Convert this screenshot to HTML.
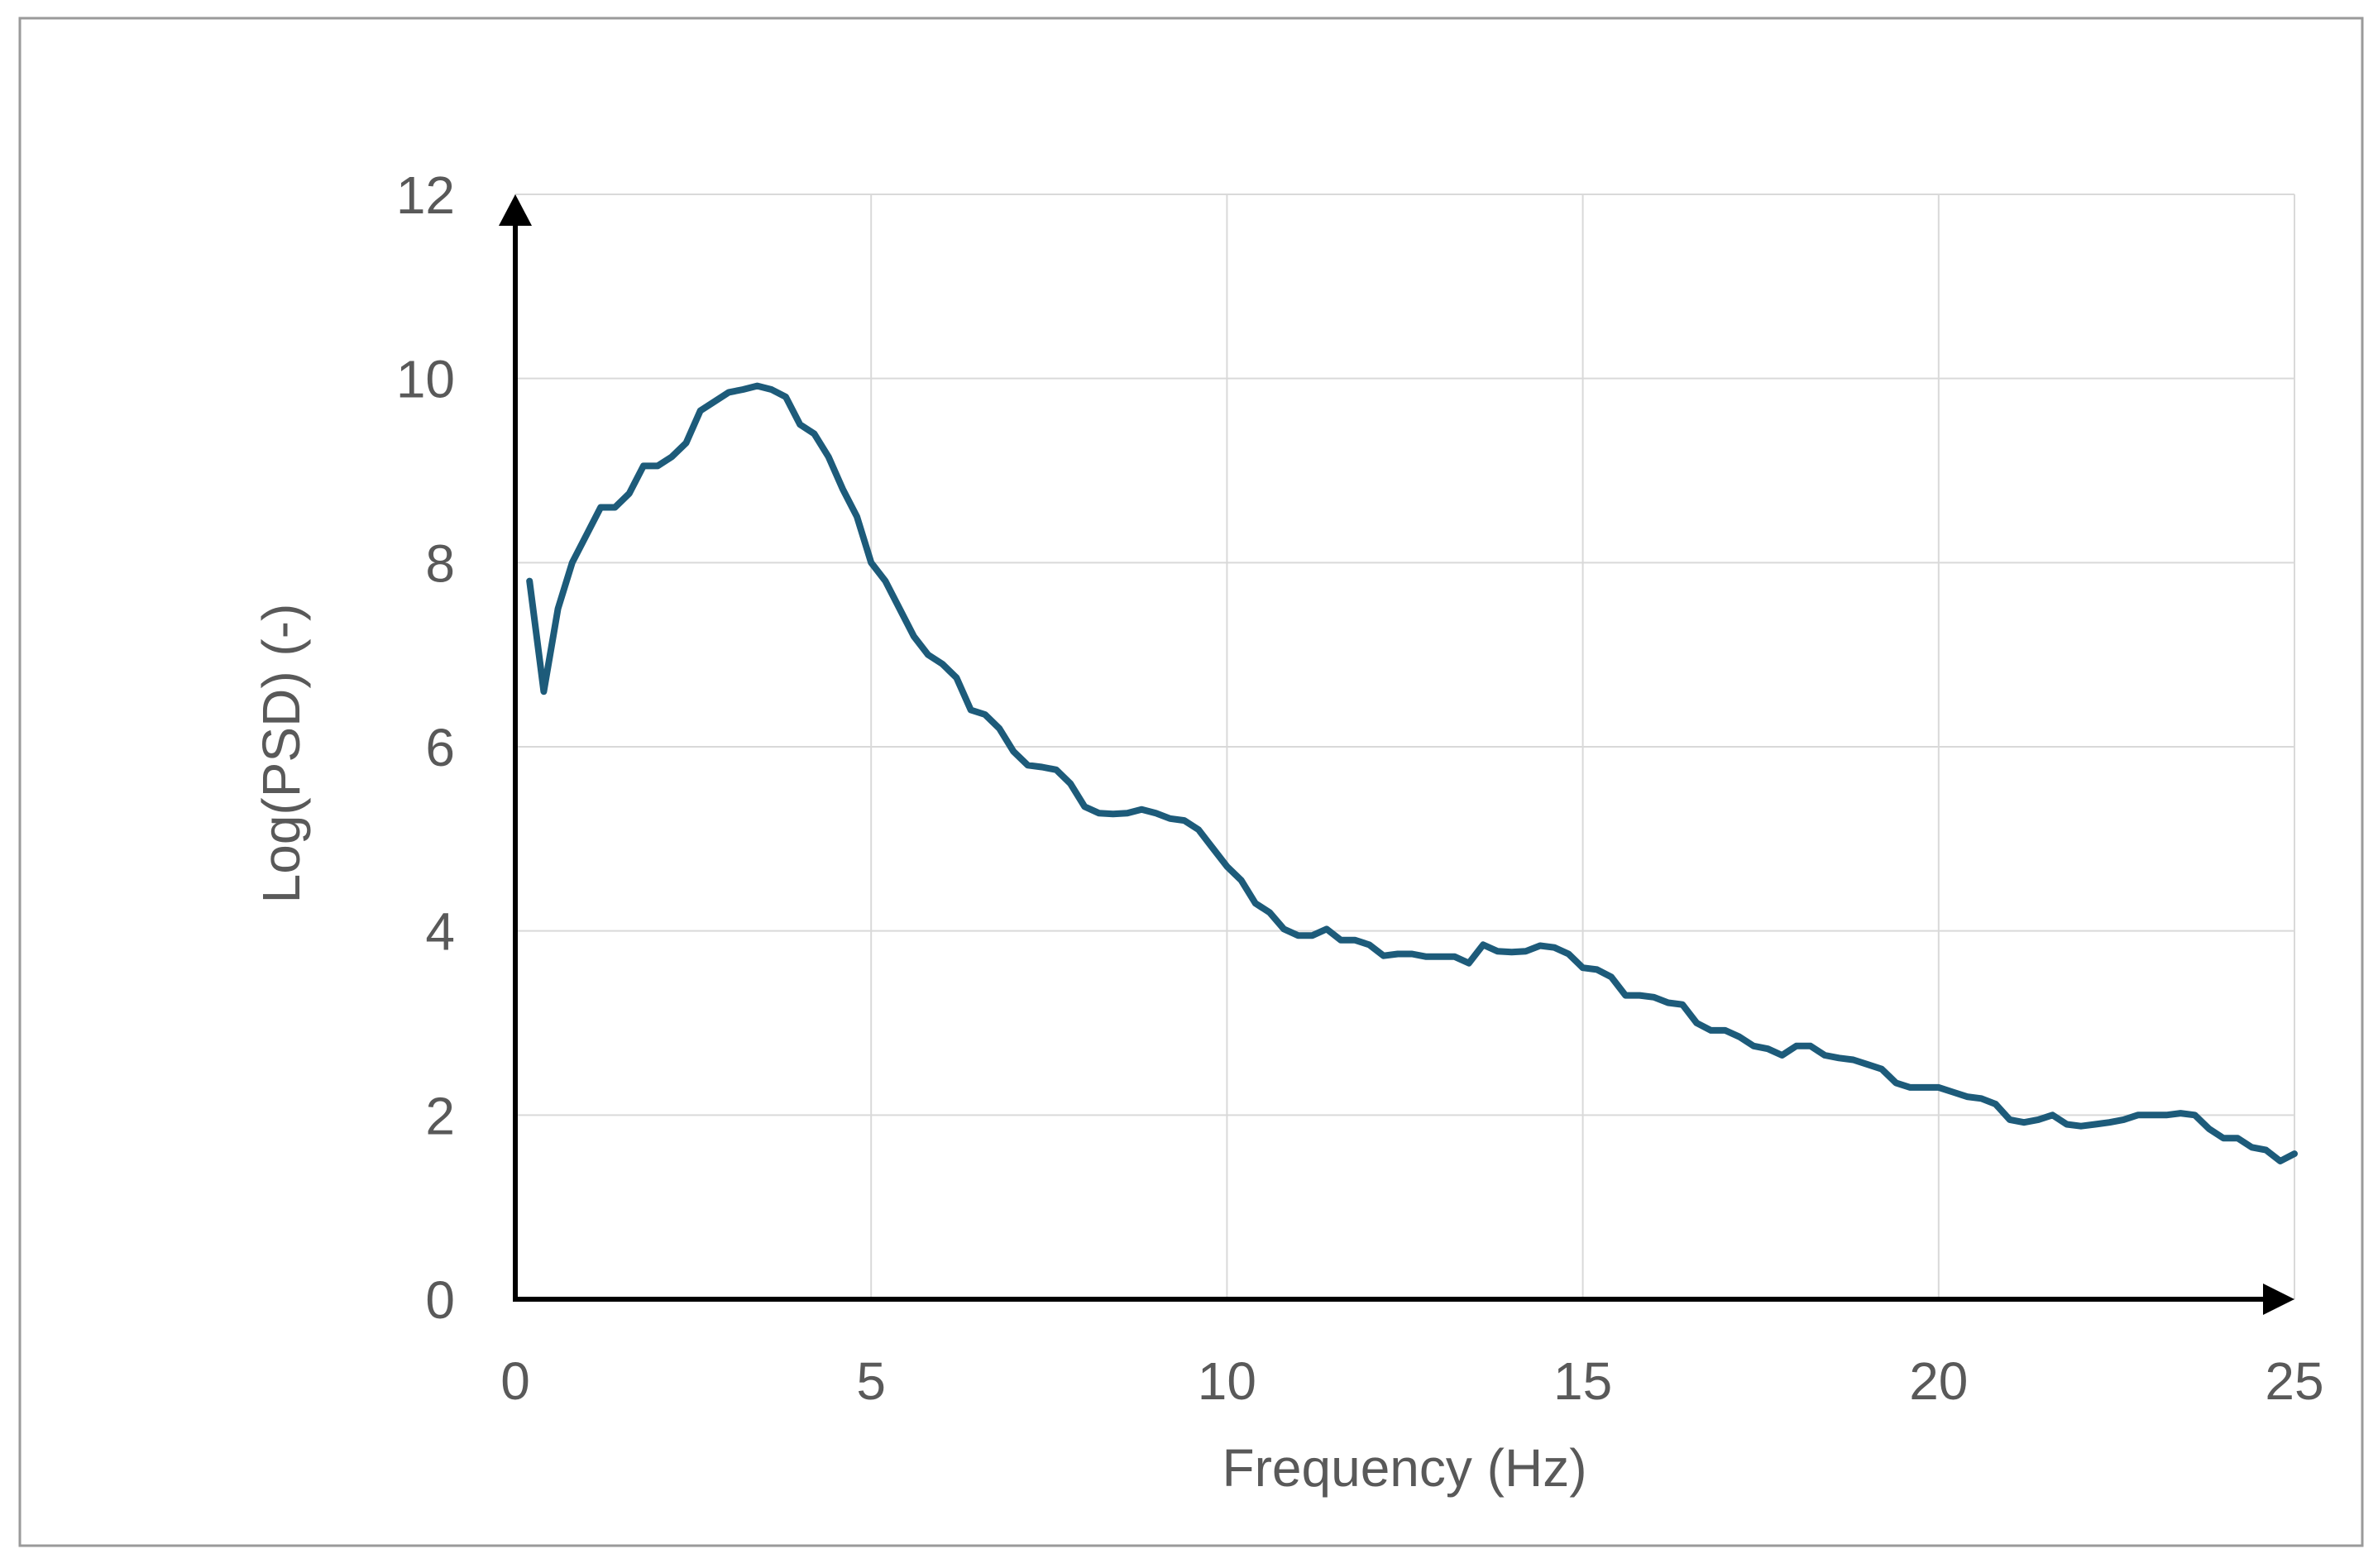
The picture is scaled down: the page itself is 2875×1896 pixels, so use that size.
<!DOCTYPE html>
<html><head><meta charset="utf-8"><style>
html,body{margin:0;padding:0;background:#fff;}
svg{display:block;font-family:"Liberation Sans",sans-serif;}
</style></head><body>
<svg id="chart" width="2875" height="1896" viewBox="0 0 2875 1896">
<rect x="24" y="22" width="2832" height="1847" fill="#fff" stroke="#9a9a9a" stroke-width="3"/>
<g id="grid"></g>
<g id="ticks"></g>
<path id="line" fill="none" stroke="#1d5b7a" stroke-width="8" stroke-linejoin="round" stroke-linecap="round"/>
<g id="axes"></g>
<text x="1698" y="1797" text-anchor="middle" font-size="64" fill="#595959">Frequency (Hz)</text>
<text transform="translate(362,911) rotate(-90)" text-anchor="middle" font-size="64" fill="#595959">Log(PSD) (-)</text>
</svg>
<script>
const freqs=[0.2,0.4,0.6,0.8,1.0,1.2,1.4,1.6,1.8,2.0,2.2,2.4,2.6,2.8,3.0,3.2,3.4,3.6,3.8,4.0,4.2,4.4,4.6,4.8,5.0,5.2,5.4,5.6,5.8,6.0,6.2,6.4,6.6,6.8,7.0,7.2,7.4,7.6,7.8,8.0,8.2,8.4,8.6,8.8,9.0,9.2,9.4,9.6,9.8,10.0,10.2,10.4,10.6,10.8,11.0,11.2,11.4,11.6,11.8,12.0,12.2,12.4,12.6,12.8,13.0,13.2,13.4,13.6,13.8,14.0,14.2,14.4,14.6,14.8,15.0,15.2,15.4,15.6,15.8,16.0,16.2,16.4,16.6,16.8,17.0,17.2,17.4,17.6,17.8,18.0,18.2,18.4,18.6,18.8,19.0,19.2,19.4,19.6,19.8,20.0,20.2,20.4,20.6,20.8,21.0,21.2,21.4,21.6,21.8,22.0,22.2,22.4,22.6,22.8,23.0,23.2,23.4,23.6,23.8,24.0,24.2,24.4,24.6,24.8,25.0];
const psd=[7.8,6.6,7.5,8.0,8.3,8.6,8.6,8.75,9.05,9.05,9.15,9.3,9.65,9.75,9.85,9.88,9.92,9.88,9.8,9.5,9.4,9.15,8.8,8.5,8.0,7.8,7.5,7.2,7.0,6.9,6.75,6.4,6.35,6.2,5.95,5.8,5.78,5.75,5.6,5.35,5.28,5.27,5.28,5.32,5.28,5.22,5.2,5.1,4.9,4.7,4.55,4.3,4.2,4.02,3.95,3.95,4.02,3.9,3.9,3.85,3.73,3.75,3.75,3.72,3.72,3.72,3.65,3.85,3.78,3.77,3.78,3.84,3.82,3.75,3.6,3.58,3.5,3.3,3.3,3.28,3.22,3.2,3.0,2.92,2.92,2.85,2.75,2.72,2.65,2.75,2.75,2.65,2.62,2.6,2.55,2.5,2.35,2.3,2.3,2.3,2.25,2.2,2.18,2.12,1.95,1.92,1.95,2.0,1.9,1.88,1.9,1.92,1.95,2.0,2.0,2.0,2.02,2.0,1.85,1.75,1.75,1.65,1.62,1.5,1.58];
const xTicks=[0,5,10,15,20,25];
const yTicks=[0,2,4,6,8,10,12];
const NS='http://www.w3.org/2000/svg';
const X0=623,X1=2774,Y0=1571,Y1=235;
function sx(v){return X0+(v-0)/(25-0)*(X1-X0);}
function sy(v){return Y0-(v-0)/(12-0)*(Y0-Y1);}
function mk(tag,attrs,parent){const e=document.createElementNS(NS,tag);for(const k in attrs)e.setAttribute(k,attrs[k]);document.getElementById(parent).appendChild(e);return e;}
yTicks.forEach(v=>{
  const g=mk('line',{x1:X0,x2:X1,y1:sy(v),y2:sy(v),stroke:'#d9d9d9','stroke-width':2},'grid');
  
  
  const t=mk('text',{x:550,y:sy(v)+23,'text-anchor':'end','font-size':64,fill:'#595959'},'ticks');
  t.textContent=v;
  
  
});
xTicks.forEach(v=>{
  const g=mk('line',{x1:sx(v),x2:sx(v),y1:Y1,y2:Y0,stroke:'#d9d9d9','stroke-width':2},'grid');
  
  
  const t=mk('text',{x:sx(v),y:1692,'text-anchor':'middle','font-size':64,fill:'#595959'},'ticks');
  t.textContent=v;
  
  
});
let d='';
freqs.forEach((f,i)=>{d+=(i?'L':'M')+sx(f).toFixed(1)+' '+sy(psd[i]).toFixed(1);});
document.getElementById('line').setAttribute('d',d);
const ya=mk('line',{x1:X0,x2:X0,y1:Y0,y2:Y1+30,stroke:'#000','stroke-width':6},'axes');


const xa=mk('line',{x1:X0-3,x2:X1-30,y1:Y0,y2:Y0,stroke:'#000','stroke-width':6},'axes');


const ah=mk('polygon',{points:`${X0-20},${Y1+38} ${X0},${Y1} ${X0+20},${Y1+38}`,fill:'#000'},'axes');


const ah2=mk('polygon',{points:`${X1-38},${Y0-19} ${X1},${Y0} ${X1-38},${Y0+19}`,fill:'#000'},'axes');


</script>
</body></html>
